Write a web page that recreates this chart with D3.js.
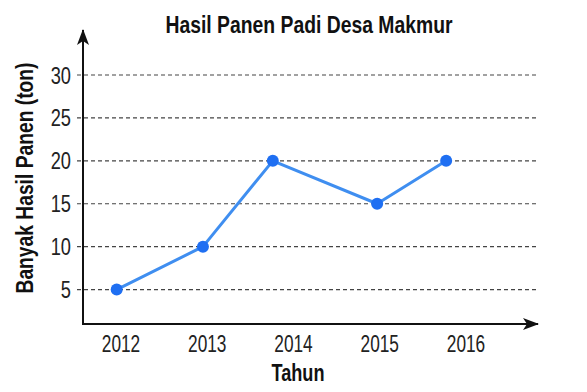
<!DOCTYPE html>
<html>
<head>
<meta charset="utf-8">
<script src="https://cdn.jsdelivr.net/npm/d3@7"></script>
<style>
    body { margin: 0; background: #ffffff; }
    svg { display: block; }
    .narrow { font-family: "Liberation Sans", Arial, sans-serif; }
</style>
</head>
<body>
<div id="chart"></div>
<script>
// data
const tahun = ["2012", "2013", "2014", "2015", "2016"];
// where each point sits along the year axis (points are drawn a bit off the labels)
const posisiTitik = [2011.95, 2012.95, 2013.76, 2014.97, 2015.77];
const hasilPanen = [5, 10, 20, 15, 20];
const tickY = [5, 10, 15, 20, 25, 30];

const judul = "Hasil Panen Padi Desa Makmur";
const labelY = "Banyak Hasil Panen (ton)";
const labelX = "Tahun";

const w = 587, h = 392;

let svg = d3.select("#chart").append("svg")
    .attr("width", w)
    .attr("height", h);

let x = d3.scaleLinear().domain([2012, 2016]).range([121, 466]);
let y = d3.scaleLinear().domain([0, 30]).range([332.5, 75]);

let axisX0 = 83, axisX1 = 538;   // horizontal extent of x axis
let axisY0 = 324, axisY1 = 30;   // vertical extent of y axis

// squeeze text horizontally, the original uses a condensed face
function condense(sel, f) {
    sel.each(function() {
        let len = this.getComputedTextLength();
        d3.select(this)
            .attr("textLength", len * f)
            .attr("lengthAdjust", "spacingAndGlyphs");
    });
}

// arrow heads
let defs = svg.append("defs");
defs.append("marker")
    .attr("id", "panah")
    .attr("viewBox", "0 0 16 12")
    .attr("refX", 15)
    .attr("refY", 6)
    .attr("markerWidth", 16)
    .attr("markerHeight", 12)
    .attr("markerUnits", "userSpaceOnUse")
    .attr("orient", "auto")
    .append("path")
    .attr("d", "M0,0 L16,6 L0,12 L4,6 Z")
    .attr("fill", "#111");

// dashed grid lines
svg.append("g").selectAll("line")
    .data(tickY).enter()
    .append("line")
    .attr("x1", 77)
    .attr("x2", 537)
    .attr("y1", d => y(d))
    .attr("y2", d => y(d))
    .attr("stroke", "#444")
    .attr("stroke-width", 1.2)
    .attr("stroke-dasharray", "4,3");

// y tick labels
svg.append("g").selectAll("text")
    .data(tickY).enter()
    .append("text")
    .attr("class", "narrow")
    .attr("x", 71)
    .attr("y", d => y(d) + 8.5)
    .attr("text-anchor", "end")
    .attr("font-size", 24)
    .attr("fill", "#222")
    .text(d => d)
    .call(condense, 0.76);

// axes
svg.append("line")
    .attr("x1", axisX0).attr("y1", axisY0 + 1)
    .attr("x2", axisX0).attr("y2", axisY1)
    .attr("stroke", "#111").attr("stroke-width", 2)
    .attr("marker-end", "url(#panah)");
svg.append("line")
    .attr("x1", axisX0 - 1).attr("y1", axisY0)
    .attr("x2", axisX1).attr("y2", axisY0)
    .attr("stroke", "#111").attr("stroke-width", 2)
    .attr("marker-end", "url(#panah)");

// x tick labels
svg.append("g").selectAll("text")
    .data(tahun).enter()
    .append("text")
    .attr("class", "narrow")
    .attr("x", d => x(+d))
    .attr("y", 351.5)
    .attr("text-anchor", "middle")
    .attr("font-size", 24)
    .attr("fill", "#222")
    .text(d => d)
    .call(condense, 0.72);

// the line
let titik = hasilPanen.map((v, i) => ({ t: posisiTitik[i], v: v }));
let garis = d3.line()
    .x(d => x(d.t))
    .y(d => y(d.v));

svg.append("path")
    .datum(titik)
    .attr("d", garis)
    .attr("fill", "none")
    .attr("stroke", "#3f8ef0")
    .attr("stroke-width", 3)
    .attr("stroke-linejoin", "round");

svg.append("g").selectAll("circle")
    .data(titik).enter()
    .append("circle")
    .attr("cx", d => x(d.t))
    .attr("cy", d => y(d.v))
    .attr("r", 6)
    .attr("fill", "#1f6ff2");

// title and axis titles
svg.append("text")
    .attr("class", "narrow")
    .attr("x", 309)
    .attr("y", 33)
    .attr("text-anchor", "middle")
    .attr("font-size", 24)
    .attr("font-weight", "bold")
    .attr("fill", "#111")
    .text(judul)
    .attr("textLength", 287)
    .attr("lengthAdjust", "spacingAndGlyphs");

svg.append("text")
    .attr("class", "narrow")
    .attr("transform", "translate(33,178) rotate(-90)")
    .attr("text-anchor", "middle")
    .attr("font-size", 24)
    .attr("font-weight", "bold")
    .attr("fill", "#111")
    .text(labelY)
    .attr("textLength", 231)
    .attr("lengthAdjust", "spacingAndGlyphs");

svg.append("text")
    .attr("class", "narrow")
    .attr("x", 298)
    .attr("y", 381)
    .attr("text-anchor", "middle")
    .attr("font-size", 24)
    .attr("font-weight", "bold")
    .attr("fill", "#111")
    .text(labelX)
    .attr("textLength", 53)
    .attr("lengthAdjust", "spacingAndGlyphs");
</script>
</body>
</html>
